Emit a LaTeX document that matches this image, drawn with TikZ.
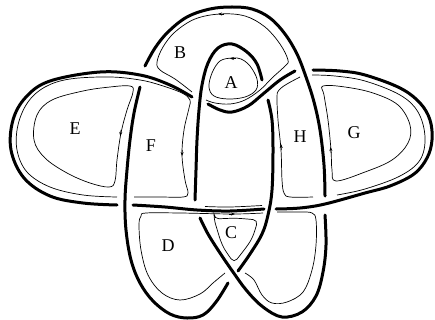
\documentclass[tikz,border=0pt]{standalone}
\usepackage{fontspec}
\setmainfont{Liberation Serif}
\usetikzlibrary{arrows.meta}
\begin{document}
\begin{tikzpicture}[x=1pt,y=-1pt,
  knot/.style={line width=3pt,line cap=round},
  thn/.style={line width=0.7pt},
  arr/.style={-{Stealth[length=4pt,width=3pt]},line width=0.7pt},
  lab/.style={font=\fontsize{18}{20}\selectfont,inner sep=0pt}]
\useasboundingbox (0,0) rectangle (435,320);
% ---- thick knot strands ----
\draw[knot] plot[smooth,tension=0.6] coordinates {(145,66) (155,48) (168,32) (187,17) (210,9) (232,7) (252,9) (270,18) (285,34) (297,54) (306,77) (314,102) (320,130) (324,165) (325,196)};
\draw[knot] plot[smooth,tension=0.6] coordinates {(140,87) (134,113) (130,140) (127,170) (125,200) (126,230) (131,260) (140,283) (153,301) (170,314) (187,318) (203,315) (216,302) (228,283)};
\draw[knot] plot[smooth,tension=0.6] coordinates {(200,218) (208,234) (220,253) (233,272) (247,291) (263,307) (282,317) (302,312) (316,296) (323,272) (326,245) (325,215)};
\draw[knot] plot[smooth,tension=0.6] coordinates {(238,271) (250,254) (262,234) (268,215) (272,190) (273,150) (272,120) (268,100)};
\draw[knot] plot[smooth,tension=0.6] coordinates {(262,80) (257,64) (247,52) (232,44) (218,48) (208,63) (202,85) (199,110) (197,140) (196,170) (195,200)};
\draw[knot] plot[smooth,tension=0.6] coordinates {(117,205) (83,203) (50,196) (24,178) (11,150) (13,120) (26,97) (50,81) (100,72) (140,75) (170,85) (192,97)};
\draw[knot] plot[smooth,tension=0.6] coordinates {(208,104) (220,110) (232,112) (248,106) (263,94) (280,80) (295,71)};
\draw[knot] plot[smooth,tension=0.6] coordinates {(313,70) (340,71) (365,75) (400,88) (420,103) (430,120) (432,140) (427,158) (414,174) (390,186) (365,193) (325,204) (300,208) (276,209)};
\draw[knot] plot[smooth,tension=0.6] coordinates {(264,209) (230,211) (197,210) (165,207) (133,205)};
% ---- thin lines ----
% F loop + E parallel
\draw[thn] plot[smooth,tension=0.6] coordinates {(134,197) (160,197) (183,197) (188,193) (185,180) (182,155) (184,130) (189,108) (190,100) (182,93) (160,85) (140,80) (110,77) (70,79) (45,87) (28,102) (18,125) (17,150) (27,172) (50,187) (83,195) (117,197)};
% E inner
\draw[thn] plot[smooth cycle,tension=0.6] coordinates {(130,86) (133,92) (127,110) (121,133) (117,160) (115,181) (109,187) (90,183) (67,173) (45,158) (34,140) (37,115) (52,100) (83,91) (110,87)};
% H loop + G parallel
\draw[thn] plot[smooth,tension=0.6] coordinates {(337,195) (365,189) (400,176) (420,160) (425,137) (418,112) (400,95) (365,81) (335,76) (312,75)};
\draw[thn] plot[smooth,tension=0.6] coordinates {(300,77) (287,84) (279,90) (277,97) (278,120) (281,150) (282,180) (284,193) (290,197) (313,197)};
% G inner
\draw[thn] plot[smooth cycle,tension=0.6] coordinates {(323,86) (345,87) (373,93) (398,105) (410,125) (408,143) (392,160) (365,172) (336,181) (332,170) (331,150) (328,120) (324,95)};
% B loop
\draw[thn] plot[smooth,tension=0.6] coordinates {(206,100) (215,103) (230,104) (245,100) (260,90) (272,78) (285,66) (288,60) (280,44) (265,27) (245,16) (220,14) (195,19) (175,32) (163,47) (157,62) (160,70) (175,79) (192,92)};
% A loop
\draw[thn] plot[smooth cycle,tension=0.6] coordinates {(232,58) (220,61) (212,73) (209,87) (214,96) (228,99) (245,97) (256,90) (257,79) (250,66) (241,59)};
% C loop
\draw[thn,rounded corners=5pt] (214,219) .. controls (236,218) .. (258,220) .. controls (252,240) .. (234,263) .. controls (222,246) .. cycle;
% D loop
\draw[thn] plot[smooth,tension=0.6] coordinates {(225,273) (213,283) (200,294) (180,300) (162,293) (148,275) (141,250) (139,225) (141,216) (146,213) (180,213) (233,214) (263,213)};
\draw[thn] plot[smooth,tension=0.6] coordinates {(277,212) (300,212) (312,213) (316,220) (316,245) (312,270) (303,292) (287,302) (272,303) (262,295) (254,280) (245,273)};
% thin line on the band's upper side
\draw[thn] plot[smooth,tension=0.6] coordinates {(205,206.5) (230,207) (262,205.5)};
% ---- arrows ----
\draw[arr] (224,14) -- (218,14);
\draw[arr] (236,58.5) -- (230,58.5);
\draw[arr] (121,130) -- (120.3,136);
\draw[arr] (182.2,150) -- (182,156);
\draw[arr] (281.3,150) -- (281,144);
\draw[arr] (331,153) -- (330.6,147);
\draw[arr] (229,214) -- (235,214);
% ---- labels ----
\node[lab] (lA) at (231,83) {A};
\node[lab] (lB) at (180,53) {B};
\node[lab] (lC) at (231,233) {C};
\node[lab] (lD) at (168,246) {D};
\node[lab] (lE) at (75,129) {E};
\node[lab] (lF) at (151,146) {F};
\node[lab] (lG) at (354,133) {G};
\node[lab] (lH) at (300,137) {H};
\end{tikzpicture}
\end{document}
